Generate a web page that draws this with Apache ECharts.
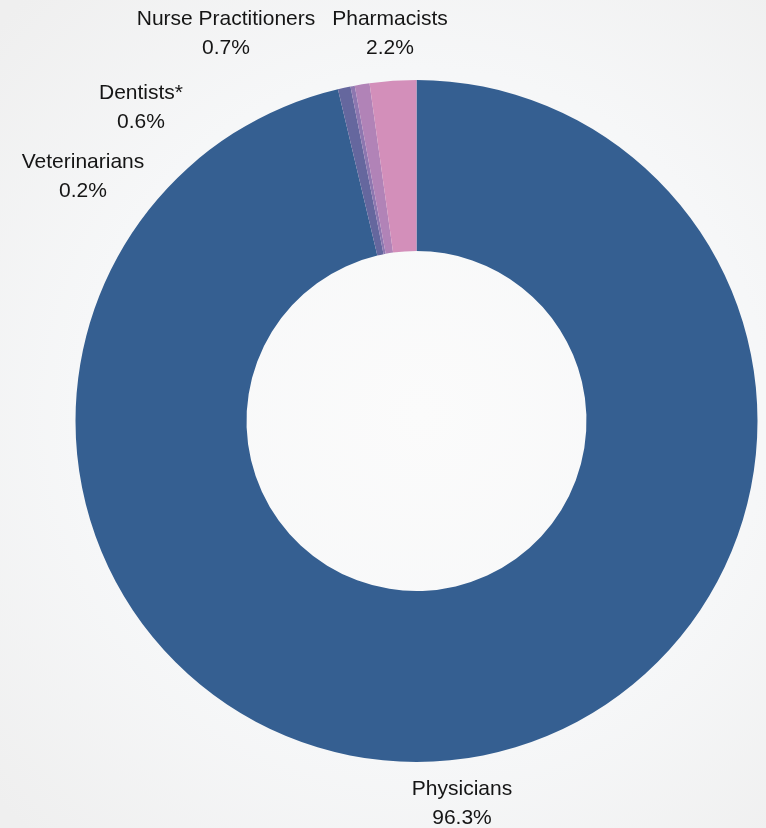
<!DOCTYPE html>
<html>
<head>
<meta charset="utf-8">
<style>
  html, body { margin: 0; padding: 0; }
  #chart { width: 766px; height: 828px; }
</style>
<script src="https://cdn.jsdelivr.net/npm/echarts@6/dist/echarts.min.js"></script>
</head>
<body>
<div id="chart"></div>
<script>
// share of prescriptions by prescriber type (%), clockwise from 12 o'clock
const categories = ['Physicians', 'Dentists*', 'Veterinarians', 'Nurse Practitioners', 'Pharmacists']
const shares = [96.3, 0.6, 0.2, 0.7, 2.2]
const colors = ['#355f91', '#65679e', '#8d77b0', '#b183b7', '#d38fba']

// where each label sits (label centre, px)
const labelSpots = {
  'Physicians': [462, 804],
  'Dentists*': [141, 108],
  'Veterinarians': [83, 177],
  'Nurse Practitioners': [226, 34],
  'Pharmacists': [390, 34]
}

const chart = echarts.init(document.getElementById('chart'))

chart.setOption({
  backgroundColor: {
    type: 'radial',
    x: 0.55,
    y: 0.5,
    r: 0.75,
    colorStops: [
      { offset: 0, color: '#fbfbfb' },
      { offset: 0.6, color: '#f6f7f8' },
      { offset: 1, color: '#efefef' }
    ]
  },
  animation: false,
  series: [{
    type: 'pie',
    center: [416.5, 421],
    radius: [170, 341],
    startAngle: 90,
    clockwise: true,
    avoidLabelOverlap: false,
    data: categories.map((name, i) => ({
      name: name,
      value: shares[i],
      itemStyle: { color: colors[i] }
    })),
    label: {
      show: true,
      position: 'outside',
      formatter: '{b}\n{c}%',
      fontFamily: 'Liberation Sans, Arial, sans-serif',
      fontSize: 21,
      lineHeight: 29,
      color: '#151515',
      align: 'center'
    },
    labelLine: { show: false },
    labelLayout: function (params) {
      const name = categories[params.dataIndex]
      const spot = labelSpots[name]
      return {
        x: spot[0],
        y: spot[1],
        align: 'center',
        verticalAlign: 'middle'
      }
    },
    emphasis: { disabled: true }
  }]
})
</script>
</body>
</html>
